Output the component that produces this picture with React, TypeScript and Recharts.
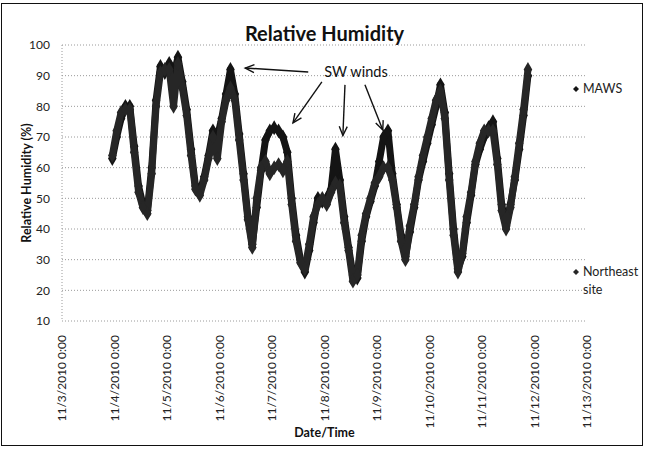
import {
  CartesianGrid,
  Legend,
  ReferenceDot,
  ReferenceLine,
  Scatter,
  ScatterChart,
  XAxis,
  YAxis,
  ZAxis
} from "recharts";

// hours after 11/3/2010 0:00, one reading every 2 h
const hours = [
  23, 25, 27, 29, 31, 33, 35, 37, 39, 41, 43, 45,
  47, 49, 51, 53, 55, 57, 59, 61, 63, 65, 67, 69,
  71, 73, 75, 77, 79, 81, 83, 85, 87, 89, 91, 93,
  95, 97, 99, 101, 103, 105, 107, 109, 111, 113, 115, 117,
  119, 121, 123, 125, 127, 129, 131, 133, 135, 137, 139, 141,
  143, 145, 147, 149, 151, 153, 155, 157, 159, 161, 163, 165,
  167, 169, 171, 173, 175, 177, 179, 181, 183, 185, 187, 189,
  191, 193, 195, 197, 199, 201, 203, 205, 207, 209, 211, 213
];

const mawsRH = [
  63, 70, 76, 80, 80, 67, 54, 48, 46, 60, 82, 93,
  91, 94, 90, 96, 88, 79, 66, 54, 52, 57, 64, 72,
  70, 76, 84, 92, 84, 71, 58, 44, 35, 47, 59, 69,
  72, 73, 72, 70, 65, 50, 38, 30, 26, 33, 42, 50,
  49, 50, 53, 66, 56, 44, 34, 25, 24, 36, 44, 49,
  54, 62, 70, 72, 58, 48, 38, 31, 39, 47, 56, 62,
  68, 74, 80, 87, 78, 58, 40, 27, 31, 42, 51, 61,
  66, 70, 73, 75, 63, 48, 41, 48, 56, 66, 77, 90
];

const northeastRH = [
  64, 72, 78, 79, 79, 65, 52, 47, 45, 58, 80, 91,
  92, 92, 80, 94, 86, 77, 64, 53, 51, 56, 63, 70,
  63, 75, 82, 86, 82, 69, 56, 43, 34, 50, 60, 62,
  58, 60, 61, 59, 62, 48, 36, 29, 27, 35, 44, 48,
  50, 48, 52, 55, 54, 42, 33, 23, 25, 38, 45, 50,
  55, 57, 60, 60, 56, 47, 36, 30, 41, 48, 57, 64,
  70, 76, 82, 85, 76, 56, 38, 26, 32, 44, 52, 62,
  68, 72, 72, 72, 61, 46, 40, 47, 57, 68, 79, 92
];

const dayTicks = [0, 1, 2, 3, 4, 5, 6, 7, 8, 9, 10];
const dateLabels = [
  "11/3/2010 0:00",
  "11/4/2010 0:00",
  "11/5/2010 0:00",
  "11/6/2010 0:00",
  "11/7/2010 0:00",
  "11/8/2010 0:00",
  "11/9/2010 0:00",
  "11/10/2010 0:00",
  "11/11/2010 0:00",
  "11/12/2010 0:00",
  "11/13/2010 0:00"
];
const rhTicks = [10, 20, 30, 40, 50, 60, 70, 80, 90, 100];

// "SW winds" callout arrows, [day, RH] from -> to
const swArrows = [
  [[4.69, 91.2], [3.49, 92.5]],
  [[4.95, 88], [4.4, 74.6]],
  [[5.39, 87], [5.35, 70.5]],
  [[5.77, 87], [6.11, 72.3]]
];

const font = "Lato, 'Open Sans', sans-serif";

const mawsPoints = hours.map((h, i) => ({ day: h / 24, rh: mawsRH[i] }));
const northeastPoints = hours.map((h, i) => ({ day: h / 24, rh: northeastRH[i] }));

function DateTick({ x, y, payload }: any) {
  return (
    <text
      x={x}
      y={y}
      dy="0.35em"
      textAnchor="end"
      transform={`rotate(-90, ${x}, ${y})`}
      fontSize={12}
      fill="#222"
      fontFamily={font}
    >
      {dateLabels[dayTicks.indexOf(payload.value)]}
    </text>
  );
}

function ArrowLine({ x1, y1, x2, y2 }: any) {
  const ang = Math.atan2(y2 - y1, x2 - x1);
  const len = 9;
  const half = 4;
  const bx = x2 - len * Math.cos(ang);
  const by = y2 - len * Math.sin(ang);
  const ax = bx + half * Math.sin(ang);
  const ay = by - half * Math.cos(ang);
  const cx = bx - half * Math.sin(ang);
  const cy = by + half * Math.cos(ang);
  return (
    <g>
      <line x1={x1} y1={y1} x2={x2} y2={y2} stroke="#111" strokeWidth={1.4} />
      <polyline points={`${ax},${ay} ${x2},${y2} ${cx},${cy}`} fill="none" stroke="#111" strokeWidth={1.4} />
    </g>
  );
}

function LegendBox({ payload }: any) {
  return (
    <div style={{ position: "relative", fontFamily: font, fontSize: 12.5, color: "#222" }}>
      {(payload ?? []).map((entry: any, i: number) => (
        <div
          key={entry.value}
          style={{ position: "absolute", left: 0, top: i === 0 ? 0 : 183, display: "flex", alignItems: "flex-start" }}
        >
          <svg width={8} height={18} style={{ flex: "none" }}>
            <path d="M4 6 L7 9 L4 12 L1 9 Z" fill={entry.color} />
          </svg>
          <span style={{ width: 58, lineHeight: "18px", marginLeft: 3 }}>{entry.value}</span>
        </div>
      ))}
    </div>
  );
}

export default function App() {
  return (
    <div style={{ position: "absolute", left: 0, top: 0, width: 649, height: 449, background: "#fff" }}>
      <div
        style={{
          position: "absolute",
          left: 0,
          top: 20,
          width: 649,
          textAlign: "center",
          fontFamily: font,
          fontWeight: 700,
          fontSize: 20,
          lineHeight: "26px",
          color: "#111"
        }}
      >
        Relative Humidity
      </div>
      <ScatterChart width={649} height={449} margin={{ top: 45, right: 62, bottom: 10, left: 0 }}>
        <CartesianGrid vertical={false} stroke="#9a9a9a" strokeDasharray="1 2" />
        <XAxis
          type="number"
          dataKey="day"
          domain={[0, 10]}
          ticks={dayTicks}
          interval={0}
          height={118}
          axisLine={false}
          tickLine={false}
          tickSize={0}
          tickMargin={14}
          tick={<DateTick />}
          label={{ value: "Date/Time", position: "insideBottom", offset: 2, fontSize: 12.5, fontWeight: 700, fill: "#111", fontFamily: font }}
        />
        <YAxis
          type="number"
          dataKey="rh"
          domain={[10, 100]}
          ticks={rhTicks}
          width={62}
          axisLine={{ stroke: "#9a9a9a", strokeDasharray: "1 2" }}
          tickLine={false}
          tickMargin={6}
          tick={{ fontSize: 12, fill: "#222", fontFamily: font }}
          label={{ value: "Relative Humidity (%)", angle: -90, position: "center", dx: -4, fontSize: 12.5, fontWeight: 700, fill: "#111", fontFamily: font }}
        />
        <ZAxis range={[55, 55]} />
        <Legend
          layout="horizontal"
          align="center"
          verticalAlign="middle"
          wrapperStyle={{ left: 572, top: 80, width: 76, height: 220 }}
          content={(props: any) => <LegendBox {...props} />}
        />
        <Scatter
          name="MAWS"
          data={mawsPoints}
          fill="#141414"
          shape="diamond"
          line={{ stroke: "#141414", strokeWidth: 7, strokeLinejoin: "round" }}
          isAnimationActive={false}
        />
        <Scatter
          name="Northeast site"
          data={northeastPoints}
          fill="#262626"
          shape="diamond"
          line={{ stroke: "#262626", strokeWidth: 7, strokeLinejoin: "round" }}
          isAnimationActive={false}
        />
        {swArrows.map(([from, to], i) => (
          <ReferenceLine
            key={i}
            segment={[{ x: from[0], y: from[1] }, { x: to[0], y: to[1] }]}
            shape={(p: any) => <ArrowLine {...p} />}
            ifOverflow="visible"
          />
        ))}
        <ReferenceDot
          x={5.6}
          y={91.2}
          r={0}
          fill="none"
          stroke="none"
          ifOverflow="visible"
          label={{ value: "SW winds", position: "center", fontSize: 14.5, fill: "#111", fontFamily: font }}
        />
      </ScatterChart>
      <div
        style={{
          position: "absolute",
          left: 1,
          top: 3,
          width: 642,
          height: 443,
          border: "1px solid #111",
          boxSizing: "border-box",
          pointerEvents: "none"
        }}
      />
    </div>
  );
}
